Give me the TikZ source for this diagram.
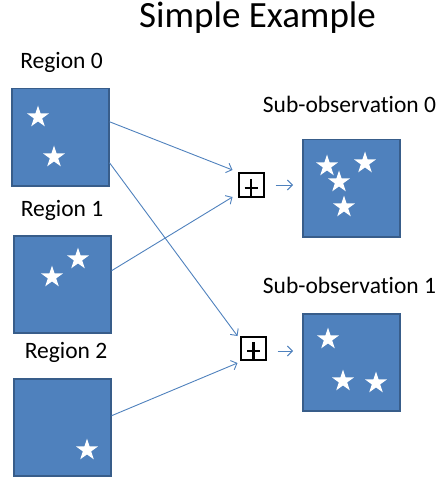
\documentclass[tikz,border=0pt]{standalone}
\usepackage{fontspec}
\setmainfont{Carlito}[Ligatures=NoCommon]
\usetikzlibrary{shapes.geometric,arrows.meta}

\definecolor{boxblue}{RGB}{79,129,189}
\definecolor{boxedge}{RGB}{56,93,138}

\def\boxside{97pt}

\begin{document}
\begin{tikzpicture}[x=1pt,y=-1pt,
    obs/.style={draw=boxedge,line width=1.5pt,fill=boxblue,minimum size=\boxside,
      inner sep=0pt,anchor=north west},
    starmark/.style={star,star points=5,star point ratio=2.6,minimum size=23pt,
      inner sep=0pt,fill=white},
    sum/.style={draw,line width=2pt,minimum width=25pt,minimum height=23pt,inner sep=0pt,
      path picture={\draw[line width=2.4pt]
        ([xshift=-6.5pt,yshift=-3pt]path picture bounding box.center) -- ++(13pt,0pt)
        ([yshift=6pt]path picture bounding box.center) -- (path picture bounding box.south);}},
    lbl/.style={font=\fontsize{23.5}{28}\selectfont,anchor=base},
    conn/.style={draw=boxblue,line width=0.9pt,-{Straight Barb[length=5pt,width=10pt]}}]

    \useasboundingbox (0,0) rectangle (441,478);

    \node[font=\fontsize{37}{44}\selectfont,anchor=base] (title) at (257.5,28) {Simple Example};

    % regions on the left
    \node[lbl] (t0) at (61.5,69) {Region 0};
    \node[obs] (r0) at (11,88) {};
    \node[starmark] (r0a) at (38,117) {};
    \node[starmark] (r0b) at (54,157) {};

    \node[lbl] (t1) at (62,216) {Region 1};
    \node[obs] (r1) at (13,235) {};
    \node[starmark] (r1a) at (52,277) {};
    \node[starmark] (r1b) at (78,259) {};

    \node[lbl] (t2) at (66,358) {Region 2};
    \node[obs] (r2) at (13,378) {};
    \node[starmark] (r2a) at (87,450) {};

    % sums
    \node[sum] (p0) at (251,185) {};
    \node[sum] (p1) at (253.5,348) {};

    % sub-observations on the right
    \node[lbl] (u0) at (349.5,113) {Sub-observation 0};
    \node[obs] (s0) at (302,139) {};
    \node[starmark] (s0a) at (327,166) {};
    \node[starmark] (s0b) at (365,163) {};
    \node[starmark] (s0c) at (339,182) {};
    \node[starmark] (s0d) at (344,207) {};

    \node[lbl] (u1) at (349.5,293) {Sub-observation 1};
    \node[obs] (s1) at (302,313) {};
    \node[starmark] (s1a) at (328,339) {};
    \node[starmark] (s1b) at (343,381) {};
    \node[starmark] (s1c) at (376,383) {};

    \draw[conn] ([yshift=15.5pt]r0.east) -- ([xshift=-5pt,yshift=15pt]p0.west);
    \draw[conn] ([yshift=-25.5pt]r0.east) -- ([xshift=-2.5pt,yshift=12pt]p1.west);
    \draw[conn] ([yshift=13.5pt]r1.east) -- ([xshift=-5pt,yshift=-12pt]p0.west);
    \draw[conn] ([yshift=11.5pt]r2.east) -- ([xshift=-2.5pt,yshift=-15pt]p1.west);

    \draw[conn,shorten <=11pt,shorten >=9pt] (p0.east) -- (p0.east -| s0.west);
    \draw[conn,shorten <=10.5pt,shorten >=9pt] ([yshift=-3pt]p1.east) -- ([yshift=-3pt]p1.east -| s1.west);
  \end{tikzpicture}
\end{document}
